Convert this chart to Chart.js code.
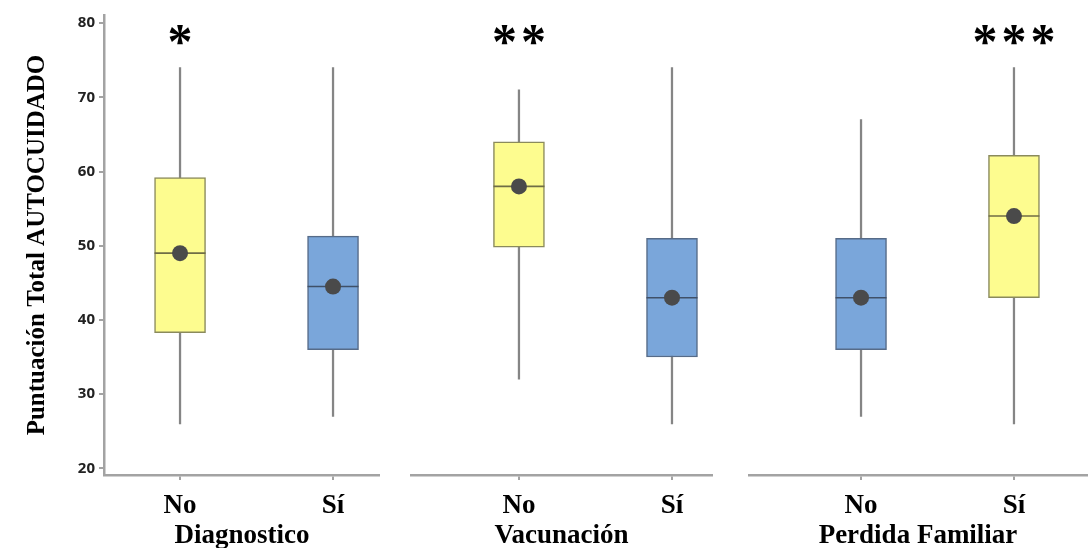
<!DOCTYPE html>
<html>
<head>
<meta charset="utf-8">
<script src="https://cdn.jsdelivr.net/npm/chart.js@4.4.0/dist/chart.umd.min.js"></script>
<style>
  body { margin: 0; background: #fff; }
  #wrap { position: relative; width: 1088px; height: 548px; overflow: hidden; }
  #wrap canvas { position: absolute; top: 0; }
</style>
</head>
<body>
<div id="wrap">
  <canvas id="c0"></canvas>
  <canvas id="c1"></canvas>
  <canvas id="c2"></canvas>
</div>
<script>
// data
var panels = ["Diagnostico", "Vacunación", "Perdida Familiar"];
var levels = ["No", "Sí"];
var minVals  = [[26, 27],   [32, 26],   [27, 26]];
var q1Vals   = [[38.3, 36], [49.8, 35], [36, 43]];
var medVals  = [[49, 44.5], [58, 43],   [43, 54]];
var q3Vals   = [[59.2, 51.3], [64, 51], [51, 62.2]];
var maxVals  = [[74, 74],   [71, 74],   [67, 74]];
var meanVals = [[49, 44.5], [58, 43],   [43, 54]];
var stars    = [["*", ""],  ["**", ""], ["", "***"]];
var yTicks = [20, 30, 40, 50, 60, 70, 80];
var yTitle = "Puntuación Total AUTOCUIDADO";

// styles / layout
var YELLOW = "#fdfc8f", BLUE = "#7aa6da";
var fills   = [[YELLOW, BLUE], [YELLOW, BLUE], [BLUE, YELLOW]];
var borders = { };
borders[YELLOW] = "#8a8a5c";
borders[BLUE] = "#566b88";
var medCol = { };
medCol[YELLOW] = "#6f6d45";
medCol[BLUE] = "#3f5068";
var axisGray = "#a3a3a3";
var yMin = 19.1, yMax = 81.1;
var starLevel = 78.4;
var layoutBox = [
  { left: 0,   width: 380, xmin: -0.497, xmax: 1.307 },
  { left: 410, width: 303, xmin: -0.712, xmax: 1.268 },
  { left: 748, width: 340, xmin: -0.739, xmax: 1.484 }
];
var serifBold = { family: "'Liberation Serif', 'Times New Roman', serif", weight: "bold", size: 27 };
var titleFont = { family: "'Liberation Serif', 'Times New Roman', serif", weight: "bold", size: 27, lineHeight: 0.9 };

function pts(arr) {
  return arr.map(function(v, i) { return { x: i, y: v }; });
}

function makeChart(p) {
  var box = layoutBox[p];
  var cv = document.getElementById("c" + p);
  cv.width = box.width;
  cv.height = 548;
  cv.style.left = box.left + "px";

  var starPlugin = {
    id: "stars" + p,
    afterDatasetsDraw: function(chart) {
      var ctx = chart.ctx;
      var xs = chart.scales.x, ys = chart.scales.y;
      ctx.save();
      ctx.fillStyle = "#000";
      ctx.font = "bold 50px 'Liberation Serif', serif";
      ctx.textAlign = "center";
      ctx.textBaseline = "middle";
      stars[p].forEach(function(s, i) {
        var cx = xs.getPixelForValue(i);
        var cy = ys.getPixelForValue(starLevel);
        var step = 29;
        for (var k = 0; k < s.length; k++) {
          ctx.fillText(s[k], cx + (k - (s.length - 1) / 2) * step, cy + 10);
        }
      });
      ctx.restore();
    }
  };

  var whisk = minVals[p].map(function(v, i) { return { x: i, y: [v, maxVals[p][i]] }; });
  var boxes = q1Vals[p].map(function(v, i) { return { x: i, y: [v, q3Vals[p][i]] }; });

  return new Chart(cv, {
    type: "bar",
    data: {
      datasets: [
        {
          data: whisk,
          backgroundColor: "#858585",
          barThickness: 1.6,
          grouped: false,
          order: 3
        },
        {
          data: boxes,
          backgroundColor: fills[p],
          borderColor: fills[p].map(function(c) { return borders[c]; }),
          borderWidth: 1.5,
          borderSkipped: false,
          barThickness: 51,
          grouped: false,
          order: 2
        },
        {
          type: "scatter",
          data: pts(medVals[p]),
          pointStyle: "line",
          pointRadius: 25.5,
          pointBorderWidth: 1.6,
          pointBorderColor: fills[p].map(function(c) { return medCol[c]; }),
          order: 1
        },
        {
          type: "scatter",
          data: pts(meanVals[p]),
          pointStyle: "circle",
          pointRadius: 8,
          pointBorderWidth: 0,
          pointBackgroundColor: "#4a4a4a",
          order: 0
        }
      ]
    },
    options: {
      responsive: false,
      animation: false,
      events: [],
      layout: { autoPadding: false, padding: { top: 15, left: 0, right: 0, bottom: 0 } },
      plugins: { legend: { display: false }, tooltip: { enabled: false } },
      scales: {
        x: {
          type: "linear",
          min: box.xmin,
          max: box.xmax,
          offset: false,
          afterBuildTicks: function(s) {
            s.ticks = levels.map(function(_, i) { return { value: i }; });
          },
          afterFit: function(s) {
            s.height = 73;
            s.paddingLeft = 0;
            s.paddingRight = 0;
          },
          ticks: {
            callback: function(v) { return levels[v]; },
            font: serifBold,
            color: "#000",
            padding: 10,
            autoSkip: false,
            maxRotation: 0
          },
          grid: { offset: false, drawOnChartArea: false, drawTicks: true, tickLength: 5, color: axisGray, lineWidth: 2 },
          border: { display: true, color: axisGray, width: 2.5 },
          title: { display: true, text: panels[p], font: titleFont, color: "#000", padding: { top: 0, bottom: 0 } }
        },
        y: {
          display: p === 0,
          min: yMin,
          max: yMax,
          afterBuildTicks: function(s) {
            s.ticks = yTicks.map(function(v) { return { value: v }; });
          },
          afterFit: function(s) {
            s.width = p === 0 ? 104 : 0;
            s.paddingTop = 0;
            s.paddingBottom = 0;
          },
          ticks: {
            font: { family: "'Open Sans', 'DejaVu Sans', sans-serif", weight: "bold", size: 15 },
            color: "#222",
            padding: 4
          },
          grid: { drawOnChartArea: false, drawTicks: true, tickLength: 5, color: axisGray, lineWidth: 2 },
          border: { display: true, color: axisGray, width: 2.5 },
          title: {
            display: true,
            text: yTitle,
            font: { family: "'Liberation Serif', serif", weight: "bold", size: 25 },
            color: "#000",
            padding: { top: 23, bottom: 0 }
          }
        }
      }
    },
    plugins: [starPlugin]
  });
}

for (var p = 0; p < panels.length; p++) {
  makeChart(p);
}
</script>
</body>
</html>
